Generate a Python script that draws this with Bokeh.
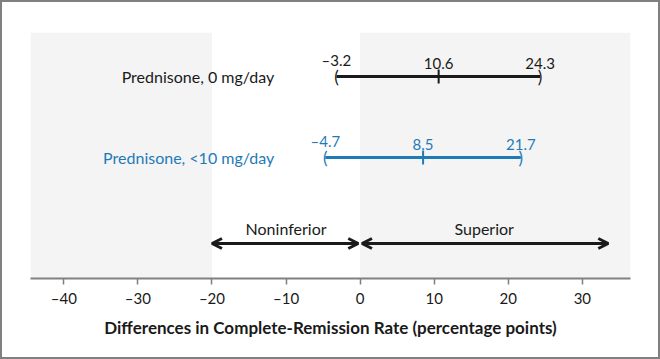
import numpy as np
from bokeh.plotting import figure
from bokeh.models import BoxAnnotation, Arrow, OpenHead, FixedTicker, ColumnDataSource
from bokeh.core.properties import value
from bokeh.embed import file_html
from bokeh.resources import INLINE

# ---- data ----
groups = ["Prednisone, 0 mg/day", "Prednisone, <10 mg/day"]
estimate = [10.6, 8.5]
lower = [-3.2, -4.7]
upper = [24.3, 21.7]
colors = ["#1a1a1a", "#1f7ab8"]
tick_values = [-40, -30, -20, -10, 0, 10, 20, 30]
margin_value = -20
superior_end = 33.5
x_title = "Differences in Complete-Remission Rate (percentage points)"

# ---- layout constants (vertical positions in frame pixels from bottom) ----
row_y = [202, 121]
arrow_y = 35
arrow_label_y = 50
row_label_x = -11.6

FONT = "Lato"

p = figure(width=660, height=359, x_range=(-44.5, 36.5), y_range=(0, 246),
           output_backend="svg", toolbar_location=None,
           min_border_left=28, min_border_right=32, min_border_top=30, min_border_bottom=83)
p.styles = {"border": "2px solid #808080", "box-sizing": "border-box", "overflow": "hidden"}
p.background_fill_color = "white"
p.border_fill_color = "white"
p.outline_line_color = None
p.grid.visible = False
p.yaxis.visible = False

# shaded regions
p.add_layout(BoxAnnotation(right=margin_value, fill_color="#f4f4f4", fill_alpha=1,
                           line_color=None, level="underlay"))
p.add_layout(BoxAnnotation(left=0, fill_color="#f4f4f4", fill_alpha=1,
                           line_color=None, level="underlay"))

# x axis
ax = p.xaxis[0]
ax.ticker = FixedTicker(ticks=tick_values)
ax.major_label_overrides = {v: (("\u2013" + str(-v)) if v < 0 else str(v)) for v in tick_values}
ax.minor_tick_line_color = None
ax.major_tick_in = 0
ax.major_tick_out = 6
ax.major_tick_line_color = "#808080"
ax.major_tick_line_width = 1.5
ax.axis_line_color = "#808080"
ax.axis_line_width = 2
ax.major_label_text_font = FONT
ax.major_label_text_font_size = "15px"
ax.major_label_text_color = "#1a1a1a"
ax.major_label_standoff = 4
ax.axis_label = x_title
ax.axis_label_text_font = FONT
ax.axis_label_text_font_size = "17px"
ax.axis_label_text_font_style = "bold"
ax.axis_label_text_color = "#1a1a1a"
ax.axis_label_standoff = 7

def fmt(v):
    return ("\u2013" + f"{-v:.1f}") if v < 0 else f"{v:.1f}"

for i in range(len(groups)):
    c = colors[i]
    y = row_y[i]
    p.segment(x0=[lower[i]], y0=[y], x1=[upper[i]], y1=[y], line_color=c, line_width=3)
    p.scatter(x=[estimate[i]], y=[y], marker="dash", angle=np.pi / 2, size=14,
              line_color=c, line_width=2)
    p.text(x=[lower[i]], y=[y], text=["("], text_align="center", text_baseline="middle",
           text_font=value(FONT), text_font_size="17px", text_color=c)
    p.text(x=[upper[i]], y=[y], text=[")"], text_align="center", text_baseline="middle",
           text_font=value(FONT), text_font_size="17px", text_color=c)
    src = ColumnDataSource(dict(x=[lower[i], estimate[i], upper[i]], y=[y] * 3,
                                t=[fmt(lower[i]), fmt(estimate[i]), fmt(upper[i])]))
    p.text(x="x", y="y", text="t", source=src, text_align="center", text_baseline="bottom",
           y_offset=-8, text_font=value(FONT), text_font_size="15px", text_color=c)
    p.text(x=[row_label_x], y=[y], text=[groups[i]], text_align="right", text_baseline="middle",
           text_font=value(FONT), text_font_size="16px", text_color=c)

# direction arrows
for x0, x1 in [(margin_value, -0.25), (0.25, superior_end)]:
    p.add_layout(Arrow(start=OpenHead(size=10, line_width=3, line_color="#1a1a1a"),
                       end=OpenHead(size=10, line_width=3, line_color="#1a1a1a"),
                       x_start=x0, y_start=arrow_y, x_end=x1, y_end=arrow_y,
                       line_width=3, line_color="#1a1a1a"))

p.text(x=[margin_value / 2, superior_end / 2], y=[arrow_label_y] * 2,
       text=["Noninferior", "Superior"], text_align="center", text_baseline="middle",
       text_font=value(FONT), text_font_size="16px", text_color="#1a1a1a")

open("out.html", "w").write(file_html(p, INLINE))
